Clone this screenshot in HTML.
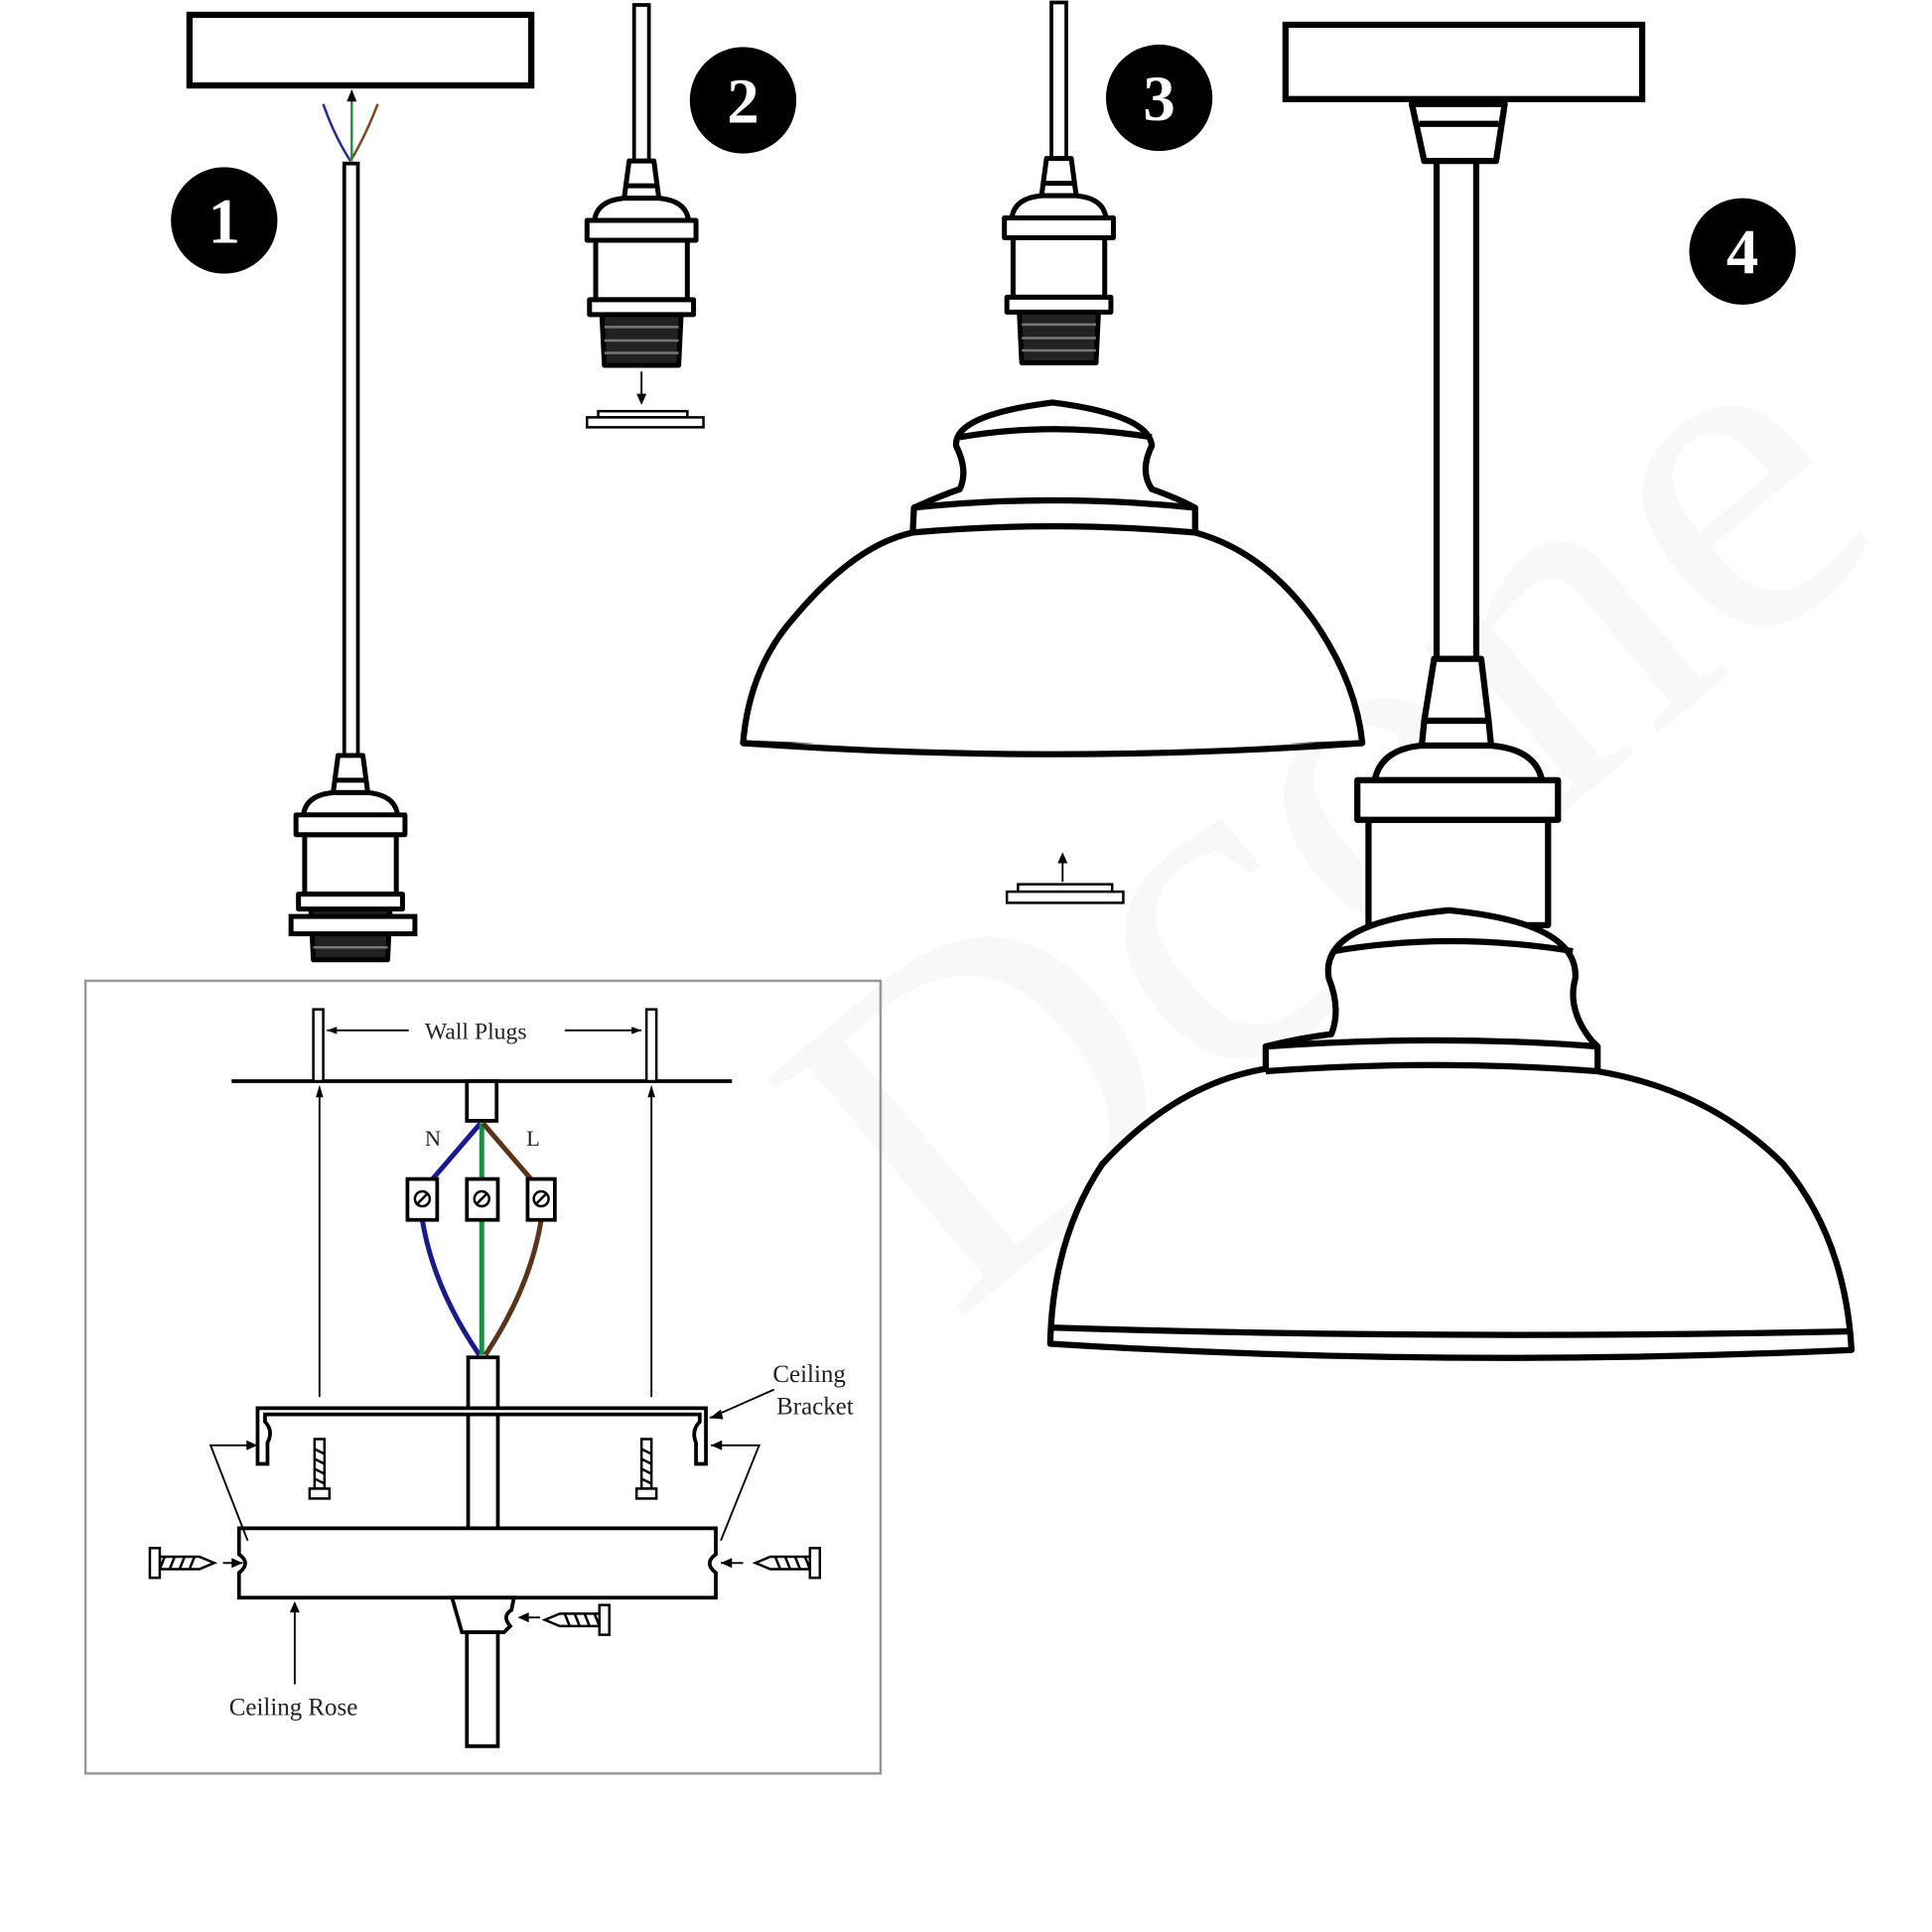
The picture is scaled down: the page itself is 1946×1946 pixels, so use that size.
<!DOCTYPE html>
<html><head><meta charset="utf-8"><style>
html,body{margin:0;padding:0;background:#fff;}
svg{display:block;}
text{font-family:"Liberation Serif",serif;}
</style></head><body>
<svg width="1946" height="1946" viewBox="0 0 1560 1560" xmlns="http://www.w3.org/2000/svg">
<defs>
<g id="sock" fill="#fff" stroke="#000" stroke-width="4" stroke-linejoin="round">
  <path d="M-10 0 L10 0 L14 30 L-14 30 Z"/>
  <line x1="-12" y1="20" x2="12" y2="20"/>
  <path d="M-14 30 Q-36 32 -38 48 L38 48 Q36 32 14 30 Z"/>
  <rect x="-37" y="64" width="74" height="48"/>
  <path d="M-32 124 L32 124 L30 165 L-30 165 Z" fill="#222"/>
  <line x1="-30" y1="134" x2="30" y2="134" stroke="#777" stroke-width="2"/>
  <line x1="-30" y1="145" x2="30" y2="145" stroke="#777" stroke-width="2"/>
  <line x1="-30" y1="155" x2="30" y2="155" stroke="#777" stroke-width="2"/>
  <rect x="-44" y="48" width="88" height="16"/>
  <rect x="-42" y="112" width="84" height="12"/>
</g>
<g id="screwV" stroke="#000" stroke-width="2" fill="#fff">
  <path d="M-4 0 L4 0 L4 40 L-4 40 Z"/>
  <path d="M-4 8 L4 12 M-4 16 L4 20 M-4 24 L4 28 M-4 32 L4 36" />
  <rect x="-8" y="40" width="16" height="8"/>
</g>
<g id="screwH" stroke="#000" stroke-width="2" fill="#fff">
  <path d="M0 0 L12 -5 L44 -5 L44 5 L12 5 Z"/>
  <path d="M16 -5 L20 5 M24 -5 L28 5 M32 -5 L36 5 M40 -5 L44 5"/>
  <rect x="44" y="-12" width="8" height="24"/>
</g>
</defs>

<!-- watermark -->
<text x="600" y="1000" font-size="380" fill="#f8f8f8" transform="rotate(-40 780 800)">Dcone</text>

<!-- Step 1 -->
<rect x="153" y="12" width="276" height="57" fill="#fff" stroke="#000" stroke-width="5"/>
<path d="M261 84 Q270 110 283 130" stroke="#2a2a9a" stroke-width="2" fill="none"/>
<path d="M305 84 Q295 110 283 130" stroke="#7a4a20" stroke-width="2" fill="none"/>
<line x1="284" y1="80" x2="284" y2="130" stroke="#1a9a3a" stroke-width="2"/>
<path d="M284 72 L280 82 L288 82 Z" fill="#000"/>
<rect x="278" y="132" width="11" height="480" fill="#fff" stroke="#000" stroke-width="3"/>
<circle cx="181" cy="178" r="43" fill="#000"/>
<text x="181" y="196" font-size="52" fill="#fff" text-anchor="middle" font-weight="bold">1</text>
<use href="#sock" transform="translate(283,610)"/>
<rect x="235" y="740" width="100" height="14" fill="#fff" stroke="#000" stroke-width="4"/>

<!-- Step 2 -->
<rect x="512" y="4" width="12" height="126" fill="#fff" stroke="#000" stroke-width="3"/>
<circle cx="600" cy="81" r="43" fill="#000"/>
<text x="600" y="99" font-size="52" fill="#fff" text-anchor="middle" font-weight="bold">2</text>
<use href="#sock" transform="translate(518,130)"/>
<line x1="518" y1="300" x2="518" y2="322" stroke="#000" stroke-width="1.5"/>
<path d="M518 327 L514 318 L522 318 Z" fill="#000"/>
<rect x="483" y="332" width="72" height="5" fill="#fff" stroke="#000" stroke-width="2"/>
<rect x="474" y="337" width="94" height="8" fill="#fff" stroke="#000" stroke-width="2"/>

<!-- Step 3 -->
<rect x="849" y="2" width="12" height="126" fill="#fff" stroke="#000" stroke-width="3"/>
<circle cx="936" cy="79" r="43" fill="#000"/>
<text x="936" y="97" font-size="52" fill="#fff" text-anchor="middle" font-weight="bold">3</text>
<use href="#sock" transform="translate(855,128)"/>
<g fill="#fff" stroke="#000" stroke-width="5" stroke-linejoin="round">
  <path d="M600 600 Q605 540 640 500 Q690 440 737 430 L738 410 Q760 400 775 395 Q782 380 772 360 Q770 335 850 325 Q928 335 930 360 Q920 380 930 395 Q950 402 965 410 L965 430 Q1020 445 1060 500 Q1095 550 1100 600 Q850 612 600 600 Z"/>
  <path d="M737 410 Q850 398 965 410 M737 430 Q850 420 965 430"/>
  <path d="M775 353 Q850 340 930 353"/>
  <path d="M600 600 Q850 618 1100 600" />
</g>
<path d="M858 692 L858 712" stroke="#000" stroke-width="1.5"/>
<path d="M858 688 L854 697 L862 697 Z" fill="#000"/>
<rect x="822" y="714" width="76" height="6" fill="#fff" stroke="#000" stroke-width="2"/>
<rect x="813" y="720" width="94" height="9" fill="#fff" stroke="#000" stroke-width="2"/>

<!-- Step 4 -->
<rect x="1038" y="20" width="288" height="60" fill="#fff" stroke="#000" stroke-width="5"/>
<circle cx="1407" cy="203" r="43" fill="#000"/>
<text x="1407" y="221" font-size="52" fill="#fff" text-anchor="middle" font-weight="bold">4</text>
<g fill="#fff" stroke="#000" stroke-width="5" stroke-linejoin="round">
  <path d="M1140 84 L1215 84 L1208 130 L1150 130 Z"/>
  <line x1="1146" y1="100" x2="1210" y2="100"/>
  <rect x="1160" y="130" width="32" height="402"/>
  <path d="M1158 532 L1196 532 L1202 582 L1150 582 Z"/>
  <path d="M1150 582 L1202 582 L1204 602 L1148 602 Z"/>
  <path d="M1110 630 Q1115 605 1148 602 L1204 602 Q1240 605 1245 630 Z"/>
  <rect x="1105" y="662" width="145" height="85"/>
  <rect x="1096" y="630" width="162" height="32"/>
  <path d="M848 1085 Q850 1000 890 940 Q950 875 1022 863 L1022 845 Q1050 838 1075 835 Q1083 815 1073 790 Q1065 745 1170 735 Q1275 745 1272 790 Q1265 815 1285 840 L1290 845 L1290 865 Q1380 880 1440 940 Q1490 1000 1495 1090 Q1170 1105 848 1085 Z"/>
  <path d="M1022 845 Q1160 835 1290 845 M1022 865 Q1160 855 1290 865"/>
  <path d="M1077 768 Q1170 752 1270 768"/>
  <path d="M850 1072 Q1170 1082 1495 1075"/>
</g>

<!-- Wiring box -->
<rect x="69" y="792" width="642" height="640" fill="none" stroke="#999" stroke-width="2"/>
<g stroke="#000" fill="#fff">
  <line x1="187" y1="873" x2="591" y2="873" stroke-width="3"/>
  <rect x="253" y="815" width="8" height="58" stroke-width="2"/>
  <rect x="522" y="815" width="8" height="58" stroke-width="2"/>
  <rect x="377" y="873" width="24" height="32" stroke-width="3"/>
  <line x1="264" y1="832" x2="330" y2="832" stroke-width="1.5"/>
  <line x1="456" y1="832" x2="518" y2="832" stroke-width="1.5"/>
  <line x1="258" y1="882" x2="258" y2="1128" stroke-width="1.5"/>
  <line x1="526" y1="882" x2="526" y2="1128" stroke-width="1.5"/>
</g>
<path d="M264 832 L272 829 L272 835 Z M518 832 L510 829 L510 835 Z M258 876 L255 886 L261 886 Z M526 876 L523 886 L529 886 Z" fill="#000"/>
<text x="343" y="839" font-size="19" fill="#222">Wall Plugs</text>
<text x="343" y="925" font-size="18" fill="#222">N</text>
<text x="425" y="925" font-size="18" fill="#222">L</text>
<!-- wires -->
<path d="M388 907 L345 957 M341 985 Q350 1040 387 1094" stroke="#1a1a90" stroke-width="4" fill="none"/>
<path d="M389 907 L389 1094" stroke="#0a9a3a" stroke-width="4" fill="none"/>
<path d="M390 907 L433 957 M437 985 Q428 1040 392 1094" stroke="#5a3418" stroke-width="4" fill="none"/>
<g fill="#fff" stroke="#000" stroke-width="3">
  <rect x="329" y="952" width="24" height="33"/>
  <rect x="377" y="952" width="25" height="33"/>
  <rect x="426" y="952" width="22" height="33"/>
  <circle cx="341" cy="968" r="6" stroke-width="2"/>
  <circle cx="389" cy="968" r="6" stroke-width="2"/>
  <circle cx="437" cy="968" r="6" stroke-width="2"/>
</g>
<path d="M337 972 L345 964 M385 972 L393 964 M433 972 L441 964" stroke="#000" stroke-width="2"/>
<!-- bracket -->
<g fill="#fff" stroke="#000" stroke-width="3">
  <rect x="378" y="1096" width="24" height="138"/>
  <path d="M208 1182 L208 1137 L570 1137 L570 1182 L562 1182 L562 1165 Q558 1155 565 1148 L565 1142 L214 1142 L214 1148 Q221 1155 216 1165 L216 1182 Z"/>
  <path d="M193 1234 L578 1234 L578 1255 Q568 1262 578 1270 L578 1290 L193 1290 L193 1270 Q203 1262 193 1255 Z"/>
  <path d="M365 1290 L415 1290 L413 1300 Q405 1305 412 1313 L407 1318 L373 1318 Z"/>
  <rect x="377" y="1318" width="25" height="92"/>
</g>
<use href="#screwV" transform="translate(258,1162)"/>
<use href="#screwV" transform="translate(522,1162)"/>
<use href="#screwH" transform="translate(173,1262) scale(-1,1)"/>
<use href="#screwH" transform="translate(610,1262)"/>
<use href="#screwH" transform="translate(440,1308)"/>
<g stroke="#000" stroke-width="1.5" fill="none">
  <path d="M208 1167 L170 1167 L200 1244"/>
  <path d="M574 1167 L613 1167 L582 1244"/>
  <path d="M573 1145 L625 1122"/>
  <path d="M238 1295 L238 1360"/>
  <path d="M180 1262 L196 1262 M600 1262 L582 1262 M436 1306 L420 1306"/>
</g>
<path d="M208 1167 L199 1163 L199 1171 Z M574 1167 L583 1163 L583 1171 Z M573 1145 L582 1138 L584 1146 Z M238 1293 L234 1302 L242 1302 Z M196 1262 L187 1258 L187 1266 Z M582 1262 L591 1258 L591 1266 Z M418 1306 L427 1302 L427 1310 Z" fill="#000"/>
<text x="624" y="1116" font-size="20" fill="#222">Ceiling</text>
<text x="627" y="1142" font-size="20" fill="#222">Bracket</text>
<text x="185" y="1385" font-size="20" fill="#222">Ceiling Rose</text>
</svg>
</body></html>
